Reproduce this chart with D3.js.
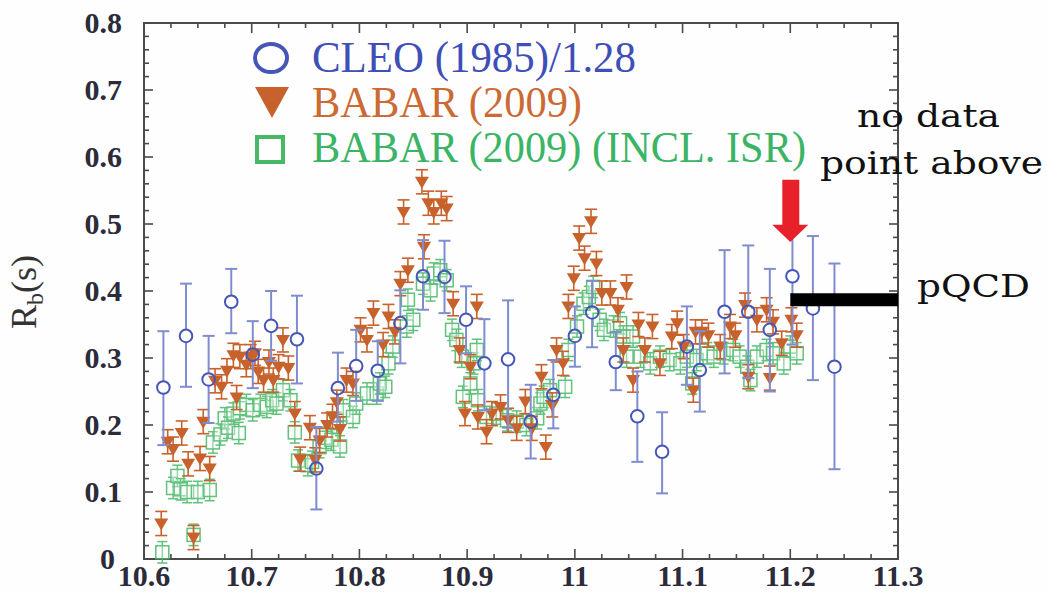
<!DOCTYPE html>
<html>
<head>
<meta charset="utf-8">
<script src="https://cdn.jsdelivr.net/npm/d3@7"></script>
<style>
  html, body { margin: 0; padding: 0; background: #fefefe; }
  svg { display: block; }
</style>
</head>
<body>
<svg id="chart" width="1047" height="594"></svg>
<script>
// ---- R_b(s) scan data ----
const xTickLabels = ["10.6", "10.7", "10.8", "10.9", "11", "11.1", "11.2", "11.3"];
const yTickLabels = ["0", "0.1", "0.2", "0.3", "0.4", "0.5", "0.6", "0.7", "0.8"];

// CLEO (1985) rescaled by 1/1.28
const cleoE  = [10.618, 10.639, 10.660, 10.681, 10.701, 10.718, 10.742, 10.760, 10.780, 10.797,
                10.817, 10.838, 10.859, 10.879, 10.899, 10.916, 10.938, 10.959, 10.980, 11.000,
                11.016, 11.038, 11.058, 11.081, 11.104, 11.116, 11.139, 11.161, 11.181, 11.202,
                11.221, 11.241];
const cleoR  = [0.256, 0.333, 0.268, 0.384, 0.305, 0.348, 0.328, 0.135, 0.255, 0.288,
                0.281, 0.352, 0.422, 0.421, 0.357, 0.292, 0.298, 0.205, 0.245, 0.333,
                0.368, 0.294, 0.213, 0.160, 0.317, 0.282, 0.369, 0.369, 0.342, 0.422,
                0.374, 0.287];
const cleoHi = [0.340, 0.411, 0.333, 0.433, 0.355, 0.400, 0.393, 0.197, 0.308, 0.342,
                0.325, 0.401, 0.476, 0.475, 0.407, 0.358, 0.386, 0.260, 0.297, 0.377,
                0.415, 0.339, 0.280, 0.219, 0.377, 0.340, 0.461, 0.468, 0.433, 0.525,
                0.482, 0.441];
const cleoLo = [0.170, 0.257, 0.203, 0.337, 0.255, 0.296, 0.262, 0.074, 0.205, 0.236,
                0.236, 0.292, 0.372, 0.367, 0.307, 0.222, 0.196, 0.150, 0.195, 0.287,
                0.316, 0.252, 0.145, 0.098, 0.260, 0.220, 0.277, 0.270, 0.250, 0.320,
                0.267, 0.134];

// BABAR (2009)
const babarE = [10.616, 10.622, 10.627, 10.635, 10.641, 10.646, 10.652, 10.655, 10.661, 10.666,
                10.672, 10.677, 10.683, 10.686, 10.689, 10.695, 10.699, 10.703, 10.706, 10.711,
                10.716, 10.720, 10.725, 10.729, 10.734, 10.740, 10.745, 10.754, 10.759, 10.763,
                10.770, 10.775, 10.779, 10.782, 10.788, 10.794, 10.801, 10.807, 10.813, 10.822,
                10.827, 10.833, 10.838, 10.841, 10.845, 10.858, 10.860, 10.864, 10.869, 10.876,
                10.881, 10.887, 10.893, 10.898, 10.903, 10.909, 10.910, 10.918, 10.923, 10.931,
                10.938, 10.946, 10.954, 10.960, 10.969, 10.973, 10.979, 10.983, 10.989, 10.994,
                10.999, 11.004, 11.009, 11.015, 11.020, 11.025, 11.033, 11.040, 11.045, 11.048,
                11.054, 11.059, 11.065, 11.072, 11.079, 11.090, 11.095, 11.101, 11.110, 11.112,
                11.118, 11.124, 11.135, 11.144, 11.149, 11.158, 11.161, 11.169, 11.178, 11.181,
                11.184, 11.192, 11.201, 11.206];
const babarR = [0.053, 0.175, 0.164, 0.188, 0.142, 0.032, 0.150, 0.205, 0.135, 0.266,
                0.257, 0.281, 0.304, 0.241, 0.302, 0.290, 0.302, 0.307, 0.280, 0.267,
                0.294, 0.267, 0.287, 0.327, 0.285, 0.217, 0.149, 0.196, 0.148, 0.177,
                0.200, 0.213, 0.234, 0.194, 0.267, 0.262, 0.342, 0.327, 0.367, 0.320,
                0.362, 0.339, 0.411, 0.518, 0.431, 0.563, 0.466, 0.531, 0.518, 0.531,
                0.523, 0.381, 0.312, 0.217, 0.287, 0.377, 0.212, 0.190, 0.217, 0.227,
                0.207, 0.195, 0.235, 0.195, 0.272, 0.167, 0.230, 0.312, 0.292, 0.377,
                0.419, 0.479, 0.449, 0.504, 0.441, 0.397, 0.397, 0.372, 0.312, 0.406,
                0.267, 0.350, 0.312, 0.347, 0.292, 0.332, 0.352, 0.317, 0.252, 0.339,
                0.339, 0.334, 0.317, 0.347, 0.334, 0.379, 0.272, 0.357, 0.372, 0.270,
                0.354, 0.322, 0.357, 0.334];
const babarErr = 0.018;

// BABAR (2009), including ISR correction
const isrE = [10.617, 10.627, 10.631, 10.634, 10.640, 10.646, 10.650, 10.661, 10.664, 10.671,
              10.675, 10.678, 10.683, 10.688, 10.689, 10.695, 10.701, 10.708, 10.714, 10.719,
              10.723, 10.729, 10.736, 10.740, 10.743, 10.752, 10.756, 10.763, 10.769, 10.774,
              10.779, 10.782, 10.785, 10.794, 10.797, 10.807, 10.816, 10.819, 10.824, 10.827,
              10.831, 10.844, 10.845, 10.850, 10.859, 10.866, 10.869, 10.875, 10.881, 10.886,
              10.890, 10.895, 10.896, 10.903, 10.906, 10.909, 10.910, 10.918, 10.927, 10.937,
              10.946, 10.955, 10.965, 10.968, 10.971, 10.977, 10.991, 10.994, 11.002, 11.008,
              11.013, 11.017, 11.023, 11.027, 11.036, 11.042, 11.045, 11.048, 11.054, 11.061,
              11.070, 11.079, 11.088, 11.098, 11.104, 11.109, 11.113, 11.123, 11.129, 11.138,
              11.147, 11.153, 11.160, 11.163, 11.169, 11.178, 11.184, 11.194, 11.200, 11.206];
const isrR = [0.010, 0.106, 0.124, 0.104, 0.100, 0.036, 0.100, 0.103, 0.174, 0.186,
              0.210, 0.196, 0.217, 0.188, 0.225, 0.230, 0.222, 0.230, 0.227, 0.237,
              0.232, 0.252, 0.237, 0.189, 0.147, 0.140, 0.145, 0.167, 0.181, 0.178,
              0.203, 0.168, 0.222, 0.212, 0.232, 0.247, 0.247, 0.262, 0.257, 0.292,
              0.317, 0.347, 0.387, 0.357, 0.411, 0.401, 0.426, 0.431, 0.416, 0.342,
              0.327, 0.302, 0.242, 0.262, 0.292, 0.312, 0.237, 0.212, 0.217, 0.207,
              0.205, 0.200, 0.210, 0.232, 0.242, 0.252, 0.257, 0.312, 0.347, 0.381,
              0.391, 0.406, 0.357, 0.342, 0.347, 0.352, 0.332, 0.302, 0.332, 0.302,
              0.292, 0.302, 0.297, 0.292, 0.302, 0.262, 0.297, 0.307, 0.302, 0.307,
              0.312, 0.302, 0.287, 0.267, 0.302, 0.312, 0.307, 0.292, 0.317, 0.307];
const isrErr = 0.016;

// perturbative QCD expectation, drawn over the upper end of the range
const pqcdRange = [11.2, 11.3];
const pqcdValue = 0.387;

// ---- layout ----
const svg = d3.select("#chart");
const x = d3.scaleLinear().domain([10.6, 11.3]).range([144, 898]);
const y = d3.scaleLinear().domain([0, 0.8]).range([559, 23]);

const colBlue = "#4656b6", colBlueBar = "#7f8dcf";
const colOrange = "#c8622c";
const colGreen = "#46b866";
const axisCol = "#4a4a4a";

// ---- frame and ticks ----
const frame = svg.append("g");
frame.append("rect")
  .attr("x", x(10.6)).attr("y", y(0.8))
  .attr("width", x(11.3) - x(10.6)).attr("height", y(0) - y(0.8))
  .attr("fill", "none").attr("stroke", axisCol).attr("stroke-width", 2);

const xMajor = xTickLabels.map(d => +d);
const xMinor = d3.range(0, 29).map(i => 10.6 + i * 0.025);
const yMajor = yTickLabels.map(d => +d);
const yMinor = d3.range(0, 41).map(i => i * 0.02);

const tickG = frame.append("g").attr("stroke", axisCol).attr("stroke-width", 1.6);
xMinor.forEach(v => {
  const isMajor = xMajor.some(m => Math.abs(m - v) < 1e-6);
  const len = isMajor ? 10 : 5;
  tickG.append("line").attr("x1", x(v)).attr("x2", x(v)).attr("y1", y(0)).attr("y2", y(0) - len);
  tickG.append("line").attr("x1", x(v)).attr("x2", x(v)).attr("y1", y(0.8)).attr("y2", y(0.8) + len);
});
yMinor.forEach(v => {
  const isMajor = yMajor.some(m => Math.abs(m - v) < 1e-6);
  const len = isMajor ? 9 : 5;
  tickG.append("line").attr("x1", x(10.6)).attr("x2", x(10.6) + len).attr("y1", y(v)).attr("y2", y(v));
  tickG.append("line").attr("x1", x(11.3)).attr("x2", x(11.3) - len).attr("y1", y(v)).attr("y2", y(v));
});

const labelFont = "'Liberation Serif', 'DejaVu Serif', serif";
svg.append("g").selectAll("text").data(xTickLabels).join("text")
  .attr("x", d => x(+d)).attr("y", 586)
  .attr("text-anchor", "middle")
  .attr("font-family", labelFont).attr("font-size", 30).attr("font-weight", "bold")
  .attr("fill", "#2b2b3a")
  .text(d => d);

// the zero label sits in the corner beside "10.6", so it is pulled slightly left
svg.append("g").selectAll("text").data(yTickLabels).join("text")
  .attr("x", d => (+d === 0 ? 115 : 122)).attr("y", d => y(+d) + 10)
  .attr("text-anchor", "end")
  .attr("font-family", labelFont).attr("font-size", 30).attr("font-weight", "bold")
  .attr("fill", "#2b2b3a")
  .text(d => d);

// axis title R_b(s)
const yTitle = svg.append("text")
  .attr("transform", "translate(36,292) rotate(-90)")
  .attr("text-anchor", "middle")
  .attr("font-family", labelFont).attr("font-size", 36).attr("fill", "#333");
yTitle.append("tspan").text("R");
yTitle.append("tspan").attr("font-size", 24).attr("dy", 7).text("b");
yTitle.append("tspan").attr("dy", -7).text("(s)");

// ---- data layers ----
const plot = svg.append("g");

// ISR-corrected BABAR: open squares with error bars
const isr = isrE.map((e, i) => ({ e, r: isrR[i] }));
const gIsr = plot.append("g").attr("stroke", colGreen).attr("fill", "none").attr("stroke-width", 1.5).attr("opacity", 0.85);
gIsr.selectAll("g").data(isr).join("g").each(function (d) {
  const g = d3.select(this);
  const cx = x(d.e), cy = y(d.r), t = y(d.r + isrErr), b = y(d.r - isrErr);
  g.append("line").attr("x1", cx).attr("x2", cx).attr("y1", t).attr("y2", b);
  g.append("line").attr("x1", cx - 5).attr("x2", cx + 5).attr("y1", t).attr("y2", t);
  g.append("line").attr("x1", cx - 5).attr("x2", cx + 5).attr("y1", b).attr("y2", b);
  g.append("rect").attr("x", cx - 6.5).attr("y", cy - 6.5).attr("width", 13).attr("height", 13)
    .attr("fill", "#fefefe").attr("fill-opacity", 0.35);
});

// BABAR: filled down triangles with error bars
const babar = babarE.map((e, i) => ({ e, r: babarR[i] }));
const gBabar = plot.append("g");
gBabar.selectAll("g").data(babar).join("g").each(function (d) {
  const g = d3.select(this);
  const cx = x(d.e), cy = y(d.r), t = y(d.r + babarErr), b = y(d.r - babarErr);
  g.append("line").attr("x1", cx).attr("x2", cx).attr("y1", t).attr("y2", b)
    .attr("stroke", colOrange).attr("stroke-width", 1.6);
  g.append("line").attr("x1", cx - 6).attr("x2", cx + 6).attr("y1", t).attr("y2", t)
    .attr("stroke", colOrange).attr("stroke-width", 1.6);
  g.append("line").attr("x1", cx - 6).attr("x2", cx + 6).attr("y1", b).attr("y2", b)
    .attr("stroke", colOrange).attr("stroke-width", 1.6);
  g.append("path")
    .attr("d", `M${cx - 7},${cy - 5}L${cx + 7},${cy - 5}L${cx},${cy + 7}Z`)
    .attr("fill", colOrange);
});

// CLEO: open circles with asymmetric error bars
const cleo = cleoE.map((e, i) => ({ e, r: cleoR[i], hi: cleoHi[i], lo: cleoLo[i] }));
const gCleo = plot.append("g");
gCleo.selectAll("g").data(cleo).join("g").each(function (d) {
  const g = d3.select(this);
  const cx = x(d.e), cy = y(d.r), t = y(d.hi), b = y(d.lo);
  const bar = g.append("g").attr("stroke", colBlueBar).attr("stroke-width", 2);
  bar.append("line").attr("x1", cx).attr("x2", cx).attr("y1", t).attr("y2", cy - 6.5);
  bar.append("line").attr("x1", cx).attr("x2", cx).attr("y1", cy + 6.5).attr("y2", b);
  bar.append("line").attr("x1", cx - 6).attr("x2", cx + 6).attr("y1", t).attr("y2", t);
  bar.append("line").attr("x1", cx - 6).attr("x2", cx + 6).attr("y1", b).attr("y2", b);
  g.append("circle").attr("cx", cx).attr("cy", cy).attr("r", 6.3)
    .attr("fill", "none").attr("stroke", colBlue).attr("stroke-width", 2);
});

// pQCD level
svg.append("line")
  .attr("x1", x(pqcdRange[0])).attr("x2", x(pqcdRange[1]))
  .attr("y1", y(pqcdValue)).attr("y2", y(pqcdValue))
  .attr("stroke", "#000").attr("stroke-width", 13);

// red arrow marking the highest-energy BABAR point
const ax = x(11.2);
const arrow = d3.path();
arrow.moveTo(ax - 8, y(0.566));
arrow.lineTo(ax + 9, y(0.566));
arrow.lineTo(ax + 9, y(0.499));
arrow.lineTo(ax + 18, y(0.499));
arrow.lineTo(ax, y(0.473));
arrow.lineTo(ax - 18, y(0.499));
arrow.lineTo(ax - 8, y(0.499));
arrow.closePath();
svg.append("path").attr("d", arrow.toString()).attr("fill", "#e8202a");

// ---- legend ----
const legendFont = "'Liberation Serif', serif";
const leg = svg.append("g");
leg.append("ellipse").attr("cx", 271).attr("cy", 58).attr("rx", 16).attr("ry", 14)
  .attr("fill", "none").attr("stroke", colBlue).attr("stroke-width", 4);
leg.append("path").attr("d", "M255,87L289,87L272,118Z").attr("fill", colOrange);
leg.append("rect").attr("x", 257).attr("y", 137).attr("width", 26).attr("height", 25)
  .attr("fill", "none").attr("stroke", colGreen).attr("stroke-width", 4);

const legendItems = [
  { text: "CLEO (1985)/1.28", y: 72, w: 324, c: "#3e4fb5" },
  { text: "BABAR (2009)", y: 117, w: 270, c: "#cc6a34" },
  { text: "BABAR (2009) (INCL. ISR)", y: 162, w: 494, c: "#3cb466" }
];
leg.selectAll("text").data(legendItems).join("text")
  .attr("x", 312).attr("y", d => d.y)
  .attr("font-family", legendFont).attr("font-size", 44)
  .attr("textLength", d => d.w).attr("lengthAdjust", "spacingAndGlyphs")
  .attr("fill", d => d.c)
  .text(d => d.text);

// ---- annotations ----
const noteFont = "'DejaVu Serif', serif";
const notes = [
  { text: "no data", x: 857, y: 127, w: 143 },
  { text: "point above", x: 820, y: 174, w: 223 },
  { text: "pQCD", x: 917, y: 297, w: 113 }
];
svg.append("g").selectAll("text").data(notes).join("text")
  .attr("x", d => d.x).attr("y", d => d.y)
  .attr("font-family", noteFont).attr("font-size", 31)
  .attr("textLength", d => d.w).attr("lengthAdjust", "spacingAndGlyphs")
  .attr("fill", "#111")
  .text(d => d.text);
</script>
</body>
</html>
